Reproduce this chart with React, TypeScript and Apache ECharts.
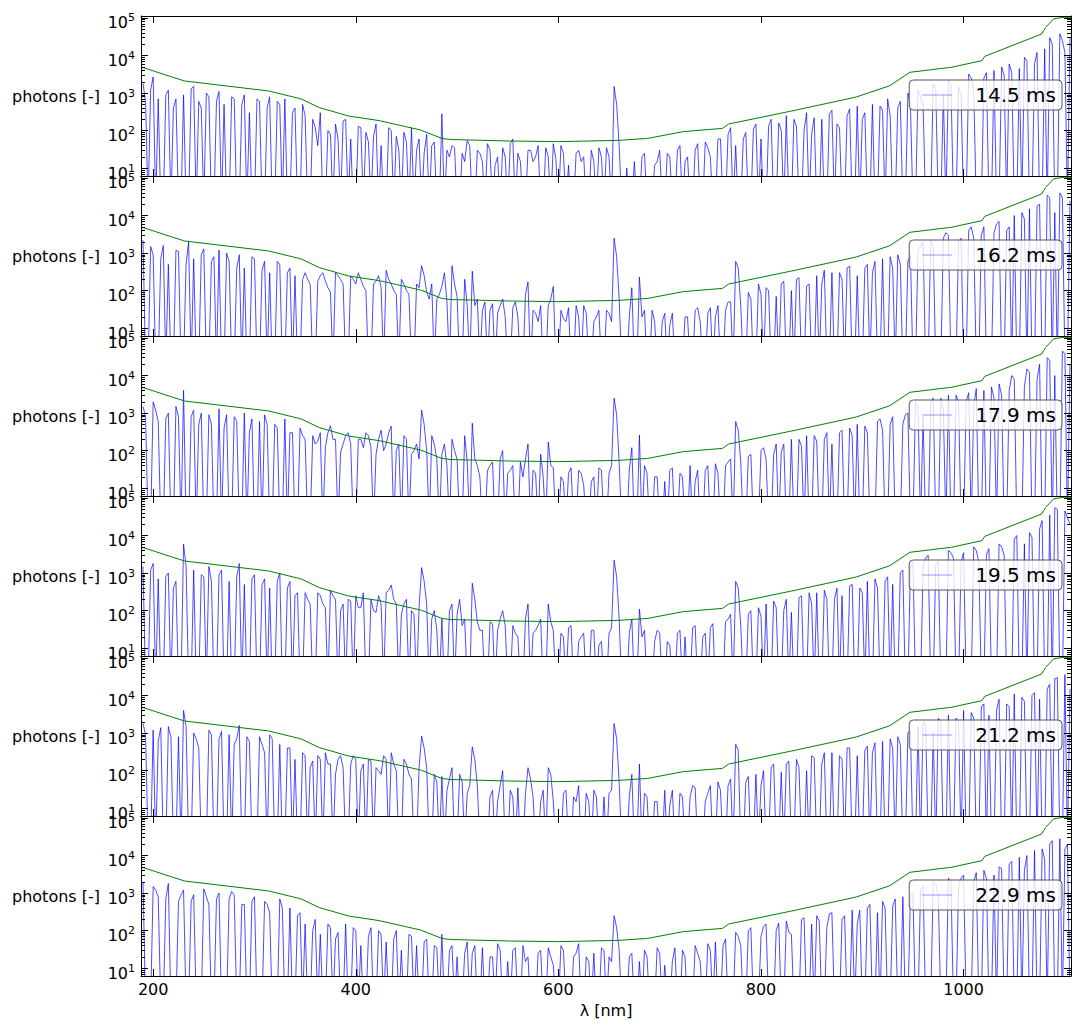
import React, { useEffect, useRef } from "react";
import * as echarts from "echarts";

// ---- axis ranges & ticks ----
const X_MIN = 188;
const X_MAX = 1106;
const Y_MIN = 6.2;
const Y_MAX = 1.13e5;
const X_TICKS = [200, 400, 600, 800, 1000];
const Y_DECADES = [1, 2, 3, 4, 5];

// ---- wavelength grid of the measured spectra (nm): even samples at 190+5i, odd samples at 192.5+5i ----
const WL_START = 190;
const WL_STEP = 5;
const WL_HALF = 2.5;

// ---- detection limit (green) ----
const LIMIT_NM = [188, 190, 231, 314, 346, 364, 393, 423, 464, 485, 494, 552, 600, 659, 688, 723, 762, 768, 835, 894, 927, 947, 988, 1018, 1021, 1077, 1081, 1089, 1098, 1106];
const LIMIT_VAL = [4900, 4780, 2100, 1140, 700, 411, 245, 185, 104, 62, 58, 53, 51, 55, 62, 94, 115, 150, 355, 787, 1570, 3580, 4870, 7300, 9550, 37500, 56500, 95000, 104000, 104000];

// ---- legend labels ----
const LABELS = ["14.5 ms", "16.2 ms", "17.9 ms", "19.5 ms", "21.2 ms", "22.9 ms"];

// ---- photon spectra (blue); 1 = below the axis ----
const E_14_5 = [
  1800, 1, 2700, 700, 1, 1200, 400, 1, 900, 1, 1500, 600, 1, 800, 1, 1100, 500, 1, 700, 1, 900, 300, 1, 600, 1, 800, 1, 500, 700, 1, 400, 1,
  250, 1, 120, 300, 1, 80, 150, 1, 200, 60, 1, 120, 90, 1, 150, 40, 1, 100, 70, 1, 50, 120, 30, 1, 80, 40, 1,
  280, 30,
  40, 1, 25, 55, 1, 30, 15, 45, 1, 20, 35, 1, 60, 25, 1, 30, 15, 40, 1, 20, 45, 1, 25, 12, 1, 30, 20, 1, 15, 35, 1, 20,
  1500, 40,
  1, 1, 15, 1, 25, 1, 12, 30, 1, 20, 1, 40, 15, 1, 30, 1, 50, 20, 1,
  60, 1, 120, 40, 1, 90, 1, 150, 60, 1, 200, 1, 100, 250, 1, 130, 1, 300, 80, 1, 200, 1, 350, 150, 1, 250, 1, 450, 200, 1, 500, 1, 350, 700, 1, 400, 1, 1000,
  1, 1200, 500, 1, 1800, 1, 900, 2200, 1, 1500, 1, 3200, 1200, 1, 2500, 1, 4000, 1, 3000, 6000, 1, 4500, 9000, 1, 6000, 1, 15000, 30000, 1, 38000, 12000, 30000,
];
const O_14_5 = [
  600, 1200, 1, 1, 900, 1, 700, 1, 1, 1300, 1, 400, 1000, 1, 600, 1, 1, 800, 1, 500, 1, 1, 700, 1, 400, 1, 600, 1, 1, 300, 1, 500,
  1, 200, 40, 1, 100, 1, 60, 180, 1, 1, 130, 1, 50, 70, 1, 1, 120, 1, 30, 90, 1, 1, 60, 25, 1, 50, 1,
  1, 20, 35, 1, 15, 40, 1, 25, 1, 30, 12, 1, 20, 45, 1, 15, 1, 30, 20, 1, 35, 1, 18, 40, 1, 1, 25, 15, 1, 30, 1, 20, 35, 1,
  500,
  1, 10, 1, 1, 20, 1, 1, 15, 1, 25, 1, 30, 1, 20, 1, 45, 1, 35, 1, 60,
  1, 80, 1, 1, 60, 1, 110, 1, 1, 130, 1, 160, 1, 1, 200, 1, 100, 1, 220, 1, 1, 280, 1, 120, 1, 380, 1, 1, 300, 1, 1, 450, 1, 250, 1, 600, 1, 500,
  1, 800, 1, 1, 1300, 1, 1, 1800, 1, 900, 1, 2500, 1, 1, 3500, 1, 1, 5000, 1, 3500, 1, 1, 7000, 1, 12000, 1, 1, 20000, 1, 25000, 1,
];
const E_16_2 = [
  2200, 1, 900, 1, 1600, 500, 1, 1100, 1, 2000, 700, 1, 1300, 1, 800, 1200, 1, 600, 1, 900, 400, 1, 700, 1, 600, 300, 1, 500, 1, 400, 250, 1,
  300, 150, 1, 250, 180, 90, 300, 200, 1, 250, 150, 200, 100, 1, 180, 120, 350, 150, 80, 200, 100, 1, 150, 460, 90, 150, 60,
  130, 50, 460, 70, 1, 40, 330, 60, 30, 1, 45, 25, 60, 1, 35, 20, 1, 170, 30, 15, 1, 40, 130, 1, 18, 35, 1, 20, 40, 1, 15, 30, 1, 25,
  2500, 60,
  1, 20, 1, 230, 30, 1, 15, 1, 25, 12, 1, 1, 20, 1, 30, 15, 1, 35, 20,
  1, 30, 50, 600, 40, 1, 60, 1, 80, 120, 1, 70, 150, 1, 100, 200, 1, 130, 1, 250, 150, 1, 300, 1, 200, 400, 1, 250, 1, 500, 300, 1, 700, 1, 400, 900, 1, 600,
  1, 1200, 2000, 1, 1500, 1, 2500, 3000, 1, 2000, 1, 4000, 2500, 1, 5000, 1, 3500, 7000, 1, 5000, 10000, 1, 8000, 15000, 1, 20000, 1, 30000, 12000, 40000, 1, 25000,
];
const O_16_2 = [
  1, 1500, 1, 700, 1, 1, 1200, 1, 500, 1, 1, 900, 1, 600, 1, 1, 1000, 1, 400, 1, 1, 800, 1, 350, 1, 1, 600, 1, 300, 1, 1, 200,
  200, 1, 180, 300, 120, 1, 250, 150, 1, 200, 300, 130, 1, 150, 250, 1, 200, 100, 1, 150, 80, 1, 120, 250, 60, 1, 80,
  300, 1, 150, 1, 200, 1, 40, 1, 50, 30, 1, 40, 20, 1, 50, 1, 80, 1, 25, 40, 1, 60, 1, 30, 15, 1, 40, 1, 25, 1, 20, 1, 30, 15,
  800,
  1, 1, 120, 1, 20, 1, 30, 1, 15, 1, 25, 1, 1, 20, 1, 35, 1, 25, 1, 40,
  1, 50, 1, 400, 1, 90, 1, 150, 1, 100, 1, 1, 180, 1, 1, 220, 1, 150, 1, 1, 350, 1, 1, 300, 1, 450, 1, 1, 400, 1, 600, 1, 1, 800, 1, 500, 1, 900,
  1, 1500, 1, 2200, 1, 1, 3500, 1, 1, 2500, 1, 5000, 1, 3000, 1, 1, 6000, 1, 4000, 1, 1, 12000, 1, 1, 18000, 1, 35000, 1, 1, 30000, 1,
];
const E_17_9 = [
  1500, 1, 2000, 600, 1, 1000, 1, 800, 4000, 1, 1200, 500, 1, 900, 1, 1300, 400, 1, 800, 1, 1000, 300, 1, 600, 900, 1, 500, 1, 700, 300, 1, 400,
  200, 1, 150, 300, 120, 460, 200, 90, 250, 150, 1, 200, 300, 120, 80, 350, 150, 450, 100, 1, 200, 80, 150, 1200, 100, 250, 60,
  80, 40, 200, 60, 1, 50, 540, 40, 1, 30, 50, 1, 100, 25, 40, 1, 20, 150, 30, 1, 20, 170, 35, 1, 15, 25, 1, 30, 12, 1, 20, 35, 1, 25,
  2500, 50,
  1, 30, 1, 260, 40, 1, 20, 1, 15, 30, 1, 25, 1, 40, 15, 1, 30, 1, 45,
  1, 40, 60, 600, 50, 1, 80, 1, 100, 60, 1, 150, 90, 1, 200, 1, 130, 250, 1, 180, 1, 300, 150, 1, 350, 1, 250, 500, 1, 300, 1, 600, 350, 1, 800, 1, 500, 1000,
  1, 1500, 800, 1, 2500, 1, 1200, 3000, 1, 2000, 1, 3500, 1500, 1, 4000, 1, 2500, 6000, 1, 4000, 8000, 1, 5000, 12000, 1, 20000, 1, 25000, 10000, 1, 38000, 20000,
];
const O_17_9 = [
  800, 1, 1200, 1, 700, 1, 1500, 1, 1, 800, 1, 1000, 1, 500, 1, 1, 900, 1, 600, 1, 1, 700, 1, 1, 500, 1, 400, 1, 1, 300, 1, 250,
  1, 250, 180, 1, 300, 200, 1, 150, 300, 1, 200, 120, 250, 1, 200, 100, 300, 1, 150, 250, 1, 100, 60, 500, 1, 150, 1,
  150, 1, 100, 1, 250, 1, 60, 20, 1, 40, 1, 60, 1, 30, 1, 50, 60, 1, 25, 80, 1, 40, 1, 20, 1, 35, 1, 25, 1, 15, 1, 30, 1, 40,
  900,
  1, 1, 120, 1, 1, 25, 1, 20, 1, 1, 35, 1, 20, 1, 1, 30, 1, 40, 1, 25,
  1, 50, 1, 350, 1, 70, 1, 1, 120, 1, 80, 1, 150, 1, 1, 200, 1, 1, 250, 1, 200, 1, 1, 300, 1, 400, 1, 1, 450, 1, 1, 700, 1, 500, 1, 1, 900, 1,
  2000, 1, 1, 1800, 1, 2500, 1, 1, 3000, 1, 2000, 1, 4500, 1, 1, 5000, 1, 3000, 1, 10000, 1, 1, 15000, 1, 8000, 1, 30000, 1, 1, 45000, 1,
];
const E_19_5 = [
  1500, 1, 1800, 700, 1, 1000, 400, 1, 5900, 1, 1200, 1, 800, 1500, 1, 900, 1, 600, 1, 1800, 500, 1, 900, 1, 700, 400, 1, 1000, 1, 600, 250, 1,
  300, 150, 1, 250, 120, 350, 200, 100, 1, 180, 250, 120, 1, 200, 90, 150, 300, 480, 150, 80, 200, 100, 1, 1400, 150, 60, 30,
  60, 1, 150, 80, 40, 1, 540, 50, 30, 1, 45, 30, 100, 1, 40, 20, 1, 150, 25, 40, 1, 150, 30, 1, 20, 35, 1, 15, 25, 1, 30, 12, 1, 25,
  2200, 60,
  1, 25, 1, 110, 30, 1, 15, 25, 1, 12, 1, 30, 20, 1, 40, 1, 25, 35, 1,
  1, 50, 80, 600, 40, 1, 100, 1, 70, 150, 1, 120, 1, 200, 90, 1, 250, 1, 150, 300, 1, 200, 1, 400, 250, 1, 500, 1, 300, 600, 1, 400, 1, 800, 500, 1, 1200, 1,
  2000, 1, 1500, 3000, 1, 2000, 1, 4000, 2500, 1, 3500, 1, 5000, 2000, 1, 4500, 1, 6000, 3000, 1, 8000, 1, 6000, 12000, 1, 15000, 1, 35000, 55000, 1, 45000, 20000,
];
const O_19_5 = [
  1, 1200, 1, 1, 800, 1, 600, 1, 1500, 1, 1, 900, 1, 600, 1, 1200, 1, 1, 800, 1, 1, 700, 1, 500, 1, 1, 600, 1, 400, 1, 300, 1,
  200, 1, 300, 150, 1, 250, 1, 150, 200, 1, 120, 300, 1, 100, 250, 1, 350, 200, 1, 150, 1, 80, 120, 600, 1, 100, 1,
  1, 100, 1, 200, 60, 1, 200, 30, 1, 50, 1, 60, 40, 1, 25, 1, 60, 1, 30, 60, 1, 50, 1, 25, 1, 40, 1, 20, 1, 30, 1, 15, 1, 35,
  800,
  1, 1, 60, 1, 20, 1, 1, 30, 1, 15, 1, 25, 1, 1, 35, 1, 20, 1, 45, 1,
  1, 60, 1, 400, 1, 80, 1, 120, 1, 1, 180, 1, 100, 1, 1, 220, 1, 300, 1, 1, 350, 1, 200, 1, 1, 450, 1, 400, 1, 1, 700, 1, 600, 1, 1, 1000, 1, 1500,
  1, 1, 2500, 1, 1800, 1, 1, 3500, 1, 2000, 1, 1, 4000, 1, 3000, 1, 1, 5000, 1, 1, 10000, 1, 1, 9000, 1, 25000, 1, 1, 50000, 1, 30000,
];
const E_21_2 = [
  1800, 1, 1200, 600, 1, 1500, 1, 800, 4000, 1, 1000, 400, 1, 1200, 1, 700, 1, 900, 500, 1600, 1, 600, 1, 800, 300, 900, 1, 500, 1, 400, 200, 1,
  250, 120, 1, 200, 300, 150, 80, 250, 1, 150, 200, 100, 1, 180, 120, 80, 200, 300, 100, 1, 150, 60, 1, 830, 120, 1, 50,
  70, 30, 120, 1, 50, 25, 430, 40, 1, 1, 30, 15, 100, 1, 20, 35, 1, 120, 20, 1, 30, 120, 15, 1, 25, 1, 20, 40, 1, 15, 30, 1, 20, 25,
  1800, 50,
  1, 20, 1, 150, 25, 1, 15, 1, 30, 12, 1, 25, 1, 20, 35, 1, 15, 40, 1,
  30, 1, 60, 500, 1, 50, 1, 80, 40, 1, 120, 1, 90, 150, 1, 200, 1, 100, 250, 1, 150, 1, 300, 1, 200, 400, 1, 250, 1, 450, 300, 1, 600, 1, 400, 800, 1, 1000,
  1, 1500, 2000, 1, 1000, 2500, 1, 3000, 1, 2000, 4000, 1, 2500, 1, 6000, 3000, 1, 8000, 1, 5000, 11000, 1, 7000, 1, 12000, 8000, 1, 20000, 28000, 1, 36000, 15000,
];
const O_21_2 = [
  900, 1, 1, 1400, 1, 800, 1, 1, 1500, 1, 700, 1, 1, 900, 1, 1100, 1, 1, 700, 1, 800, 1, 1, 500, 1, 700, 1, 1, 400, 1, 1, 300,
  1, 180, 250, 1, 150, 1, 200, 120, 1, 250, 1, 150, 200, 1, 100, 250, 1, 150, 1, 200, 80, 1, 120, 400, 1, 80, 1,
  1, 60, 1, 80, 1, 40, 200, 1, 1, 20, 1, 40, 1, 30, 1, 1, 25, 60, 1, 15, 1, 80, 1, 1, 30, 1, 15, 1, 25, 1, 20, 1, 1, 30,
  700,
  1, 1, 80, 1, 1, 20, 1, 15, 1, 1, 30, 1, 20, 1, 40, 1, 1, 25, 1, 50,
  1, 40, 1, 350, 1, 70, 1, 1, 100, 1, 150, 1, 1, 180, 1, 120, 1, 1, 220, 1, 300, 1, 1, 250, 1, 400, 1, 1, 350, 1, 550, 1, 1, 700, 1, 500, 1, 1200,
  1, 1, 1800, 1, 1, 2000, 1, 1, 2500, 1, 1, 3500, 1, 5000, 1, 1, 4000, 1, 6000, 1, 1, 9000, 1, 10000, 1, 1, 15000, 1, 30000, 1, 1,
];
const E_22_9 = [
  2000, 1, 1500, 800, 1, 1800, 1, 600, 1200, 1, 900, 1, 1300, 500, 1, 1000, 1, 700, 900, 1, 500, 1, 800, 1, 600, 300, 1, 700, 1, 400, 1, 300,
  150, 1, 200, 80, 1, 120, 60, 1, 150, 1, 100, 40, 1, 120, 1, 80, 50, 1, 100, 30, 1, 70, 40, 1, 60, 1, 35,
  80, 1, 40, 20, 1, 50, 25, 1, 35, 1, 20, 45, 1, 15, 30, 1, 40, 20, 1, 25, 1, 35, 12, 1, 30, 1, 20, 45, 1, 15, 25, 1, 30, 20,
  250, 30,
  1, 20, 1, 15, 30, 1, 1, 25, 12, 1, 35, 1, 20, 1, 40, 15, 1, 30, 50,
  1, 60, 1, 90, 40, 1, 120, 1, 70, 150, 1, 100, 1, 180, 80, 1, 200, 1, 150, 250, 1, 120, 300, 1, 200, 1, 350, 150, 1, 400, 1, 300, 600, 1, 450, 1, 800, 1,
  1000, 1, 1500, 1, 2000, 800, 1, 2500, 1, 1500, 3000, 1, 2000, 1, 4000, 1, 3000, 5000, 1, 6000, 1, 9000, 4000, 1, 13600, 1, 8000, 20000, 1, 28000, 15000, 1,
];
const O_22_9 = [
  1, 1, 1200, 1, 700, 1, 1, 900, 1, 600, 1, 1, 800, 1, 700, 1, 1, 1100, 1, 500, 1, 600, 1, 1, 500, 1, 1, 400, 1, 1, 250, 1,
  1, 100, 1, 1, 150, 1, 90, 1, 1, 120, 1, 1, 70, 1, 100, 1, 1, 60, 1, 1, 80, 1, 1, 50, 1, 40, 1,
  1, 30, 1, 1, 25, 1, 40, 1, 1, 20, 1, 30, 1, 1, 35, 1, 15, 1, 1, 30, 1, 20, 1, 40, 1, 1, 25, 1, 20, 1, 1, 35, 1, 15,
  120,
  1, 1, 25, 1, 1, 20, 1, 35, 1, 1, 15, 1, 30, 1, 1, 25, 1, 45, 1, 1,
  40, 1, 1, 70, 1, 100, 1, 1, 130, 1, 1, 160, 1, 90, 1, 1, 220, 1, 1, 180, 1, 280, 1, 1, 250, 1, 1, 350, 1, 500, 1, 1, 400, 1, 700, 1, 1, 900,
  1, 1200, 1, 1, 1800, 1, 1, 2000, 1, 2500, 1, 1, 3500, 1, 2500, 1, 1, 4500, 1, 7000, 1, 1, 10000, 1, 1, 15000, 1, 25000, 1, 1, 20000,
];
const SPECTRA_EVEN = [E_14_5, E_16_2, E_17_9, E_19_5, E_21_2, E_22_9];
const SPECTRA_ODD = [O_14_5, O_16_2, O_17_9, O_19_5, O_21_2, O_22_9];

// ---- layout ----
const W = 1082;
const H = 1033;
const GRID_LEFT = 141;
const GRID_RIGHT = 11;
const PANEL_TOP = 16;
const PANEL_H = 160;
const FONT = "DejaVu Sans";

function mergeSpectrum(even: number[], odd: number[]) {
  const out: number[][] = [];
  for (let i = 0; i < even.length; i++) {
    out.push([WL_START + WL_STEP * i, even[i]]);
    if (i < odd.length) out.push([WL_START + WL_HALF + WL_STEP * i, odd[i]]);
  }
  return out;
}

function buildOption() {
  const lmin = Math.log10(Y_MIN);
  const lmax = Math.log10(Y_MAX);
  const minor: number[] = [];
  for (let k = 0; k <= 5; k++) {
    for (let m = 2; m <= 9; m++) {
      const v = Math.log10(m * Math.pow(10, k));
      if (v > lmin && v < lmax) minor.push(v);
    }
  }
  const n = LABELS.length;
  const grid: any[] = [];
  const xAxis: any[] = [];
  const yAxis: any[] = [];
  const series: any[] = [];
  const legend: any[] = [];
  const tickBase = { show: true, inside: true, lineStyle: { color: "#000", width: 1 } };

  for (let k = 0; k < n; k++) {
    const top = PANEL_TOP + k * PANEL_H;
    const last = k === n - 1;
    grid.push({ left: GRID_LEFT, right: GRID_RIGHT, top, height: PANEL_H, show: false });
    xAxis.push({
      type: "value", gridIndex: k, position: "bottom", min: X_MIN, max: X_MAX, z: 10,
      axisLine: { show: true, onZero: false, lineStyle: { color: "#000", width: 1 } },
      axisTick: { ...tickBase, length: 7, customValues: X_TICKS },
      axisLabel: {
        show: last, customValues: X_TICKS, fontSize: 16, color: "#000", fontFamily: FONT, margin: 5,
        formatter: (v: number) => String(v),
      },
      splitLine: { show: false },
      name: last ? "λ [nm]" : "", nameLocation: "middle", nameGap: 26,
      nameTextStyle: { fontSize: 16, color: "#000", fontFamily: FONT },
    });
    xAxis.push({
      type: "value", gridIndex: k, position: "top", min: X_MIN, max: X_MAX, z: 10,
      axisLine: { show: true, onZero: false, lineStyle: { color: "#000", width: 1 } },
      axisTick: { ...tickBase, length: 7, customValues: X_TICKS },
      axisLabel: { show: false },
      splitLine: { show: false },
    });
    yAxis.push({ type: "log", gridIndex: k, min: Y_MIN, max: Y_MAX, show: false, logBase: 10 });
    yAxis.push({
      type: "value", gridIndex: k, position: "left", min: lmin, max: lmax, z: 10,
      axisLine: { show: true, onZero: false, lineStyle: { color: "#000", width: 1 } },
      axisTick: { ...tickBase, length: 7, customValues: Y_DECADES },
      axisLabel: {
        show: true, customValues: Y_DECADES, margin: 6,
        formatter: (v: number) => `{b|10}{e|${Math.round(v)}}`,
        rich: {
          b: { fontSize: 16, fontFamily: FONT, color: "#000", lineHeight: 16, padding: [10, 0, 0, 0] },
          e: { fontSize: 11, fontFamily: FONT, color: "#000", lineHeight: 11 },
        },
      },
      splitLine: { show: false },
      name: "photons [-]", nameLocation: "middle", nameRotate: 0, nameGap: 41,
      nameTextStyle: { fontSize: 16, color: "#000", fontFamily: FONT },
    });
    yAxis.push({
      type: "value", gridIndex: k, position: "left", min: lmin, max: lmax, z: 10,
      axisLine: { show: false, onZero: false },
      axisTick: { ...tickBase, length: 4, customValues: minor },
      axisLabel: { show: false },
      splitLine: { show: false },
    });
    yAxis.push({
      type: "value", gridIndex: k, position: "right", min: lmin, max: lmax, z: 10,
      axisLine: { show: true, onZero: false, lineStyle: { color: "#000", width: 1 } },
      axisTick: { ...tickBase, length: 7, customValues: Y_DECADES },
      axisLabel: { show: false },
      splitLine: { show: false },
    });
    yAxis.push({
      type: "value", gridIndex: k, position: "right", min: lmin, max: lmax, z: 10,
      axisLine: { show: false, onZero: false },
      axisTick: { ...tickBase, length: 4, customValues: minor },
      axisLabel: { show: false },
      splitLine: { show: false },
    });

    series.push({
      type: "line", name: LABELS[k], xAxisIndex: 2 * k, yAxisIndex: 5 * k,
      data: mergeSpectrum(SPECTRA_EVEN[k], SPECTRA_ODD[k]),
      showSymbol: false, symbol: "none", clip: true, silent: true, z: 2,
      itemStyle: { color: "#0000ff" },
      lineStyle: { color: "rgba(0,0,255,0.7)", width: 1 },
    });
    series.push({
      type: "line", name: "limit " + LABELS[k], xAxisIndex: 2 * k, yAxisIndex: 5 * k,
      data: LIMIT_NM.map((x, i) => [x, LIMIT_VAL[i]]),
      showSymbol: false, symbol: "none", clip: true, silent: true, z: 3,
      itemStyle: { color: "#008000" },
      lineStyle: { color: "#008000", width: 1 },
    });
    legend.push({
      data: [LABELS[k]],
      right: 20, top: top + 64,
      icon: "rect", itemWidth: 30, itemHeight: 1,
      itemStyle: { color: "rgba(0,0,255,0.4)", borderWidth: 0 },
      backgroundColor: "rgba(255,255,255,0.8)",
      borderColor: "#555", borderWidth: 1, borderRadius: 4,
      padding: [3, 6, 3, 13],
      selectedMode: false,
      textStyle: { fontSize: 20, color: "#000", fontFamily: FONT, lineHeight: 24, padding: [0, 0, 0, 18] },
    });
  }

  return {
    animation: false,
    backgroundColor: "#fff",
    textStyle: { fontFamily: FONT },
    grid, xAxis, yAxis, series, legend,
  };
}

export default function App() {
  const ref = useRef<HTMLDivElement>(null);
  useEffect(() => {
    if (!ref.current) return;
    const chart = echarts.init(ref.current, undefined, { renderer: "svg" });
    chart.setOption(buildOption());
    return () => chart.dispose();
  }, []);
  return (
    <div
      ref={ref}
      style={{ position: "absolute", left: 0, top: 0, width: W, height: H }}
    />
  );
}
